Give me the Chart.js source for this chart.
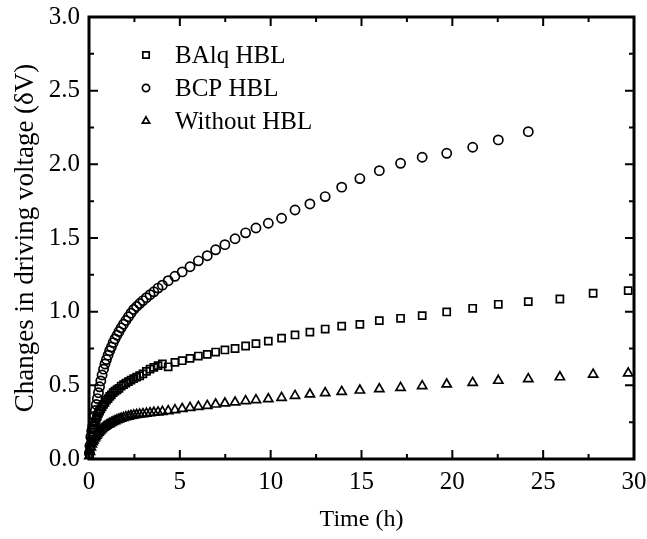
<!DOCTYPE html>
<html>
<head>
<meta charset="utf-8">
<title>Changes in driving voltage</title>
<script src="https://cdn.jsdelivr.net/npm/chart.js"></script>
<style>
  body { margin: 0; background: #fff; }
  #chart { display: block; }
</style>
</head>
<body>
<canvas id="chart" width="647" height="539"></canvas>
<script>
// time (h), shared by the three series
const times = [0.02, 0.05, 0.1, 0.15, 0.2, 0.25, 0.3, 0.35, 0.4, 0.46, 0.52, 0.58, 0.65, 0.72, 0.8, 0.88, 0.96,
  1.05, 1.14, 1.23, 1.33, 1.43, 1.54, 1.65, 1.77, 1.9, 2.03, 2.17, 2.31, 2.46, 2.62, 2.79, 2.97, 3.16, 3.36, 3.57,
  3.8, 4.04, 4.36, 4.73, 5.13, 5.56, 6.02, 6.51, 6.97, 7.48, 8.04, 8.62, 9.19, 9.87, 10.6, 11.34, 12.16, 13.0,
  13.91, 14.91, 15.98, 17.15, 18.34, 19.69, 21.12, 22.53, 24.18, 25.92, 27.75, 29.68];

// changes in driving voltage (dV)
const balqHbl = [0.03, 0.07, 0.12, 0.15, 0.18, 0.21, 0.23, 0.25, 0.27, 0.29, 0.31, 0.325, 0.34, 0.355, 0.37, 0.385,
  0.4, 0.41, 0.425, 0.435, 0.45, 0.46, 0.47, 0.48, 0.495, 0.505, 0.515, 0.525, 0.535, 0.545, 0.555, 0.565, 0.578,
  0.595, 0.61, 0.622, 0.634, 0.646, 0.626, 0.656, 0.667, 0.683, 0.699, 0.71, 0.726, 0.74, 0.75, 0.767, 0.783, 0.8,
  0.82, 0.842, 0.861, 0.882, 0.902, 0.914, 0.939, 0.955, 0.973, 0.998, 1.023, 1.05, 1.068, 1.086, 1.125, 1.143];

const bcpHbl = [0.04, 0.09, 0.15, 0.19, 0.22, 0.25, 0.29, 0.33, 0.37, 0.41, 0.45, 0.49, 0.53, 0.57, 0.61, 0.645,
  0.675, 0.705, 0.735, 0.76, 0.79, 0.815, 0.84, 0.865, 0.89, 0.915, 0.94, 0.965, 0.99, 1.015, 1.035, 1.055, 1.075,
  1.095, 1.115, 1.135, 1.16, 1.18, 1.21, 1.24, 1.27, 1.305, 1.345, 1.38, 1.42, 1.455, 1.495, 1.535, 1.568, 1.6,
  1.634, 1.69, 1.731, 1.781, 1.845, 1.903, 1.957, 2.007, 2.048, 2.075, 2.116, 2.166, 2.222];

const withoutHbl = [0.02, 0.05, 0.08, 0.10, 0.115, 0.128, 0.14, 0.15, 0.16, 0.17, 0.18, 0.188, 0.197,
  0.205, 0.213, 0.22, 0.227, 0.234, 0.24, 0.246, 0.252, 0.258, 0.264, 0.27, 0.275, 0.28, 0.285, 0.289, 0.293,
  0.297, 0.30, 0.303, 0.306, 0.309, 0.312, 0.315, 0.318, 0.321,
  0.326, 0.333, 0.341, 0.348, 0.355, 0.362, 0.371, 0.378, 0.385, 0.394, 0.401, 0.407, 0.416,
  0.43, 0.439, 0.448, 0.457, 0.466, 0.475, 0.484, 0.496, 0.507, 0.518, 0.532, 0.543, 0.556, 0.574, 0.582];

const seriesNames = ['BAlq HBL', 'BCP HBL', 'Without HBL'];
const xTicks = [0, 5, 10, 15, 20, 25, 30];
const yTicks = [0.0, 0.5, 1.0, 1.5, 2.0, 2.5, 3.0];

const serif = '"Liberation Serif", "DejaVu Serif", serif';

function toPoints(values) {
  return values.map((v, i) => ({ x: times[i], y: v }));
}

// box round the plot with inward ticks on all four sides
const framePlugin = {
  id: 'frame',
  afterDatasetsDraw(chart) {
    const { ctx, chartArea: a, scales: { x, y } } = chart;
    ctx.save();
    ctx.strokeStyle = '#000';
    ctx.lineWidth = 2;
    ctx.beginPath();
    const xMinor = xTicks.slice(1).map((v, i) => (v + xTicks[i]) / 2);
    const yMinor = yTicks.slice(1).map((v, i) => (v + yTicks[i]) / 2);
    const xMarks = xTicks.map(v => [v, 9]).concat(xMinor.map(v => [v, 5]));
    const yMarks = yTicks.map(v => [v, 9]).concat(yMinor.map(v => [v, 5]));
    xMarks.forEach(([v, len]) => {
      const px = x.getPixelForValue(v);
      ctx.moveTo(px, a.bottom); ctx.lineTo(px, a.bottom - len);
      ctx.moveTo(px, a.top); ctx.lineTo(px, a.top + len);
    });
    yMarks.forEach(([v, len]) => {
      const py = y.getPixelForValue(v);
      ctx.moveTo(a.left, py); ctx.lineTo(a.left + len, py);
      ctx.moveTo(a.right, py); ctx.lineTo(a.right - len, py);
    });
    ctx.stroke();
    ctx.lineWidth = 3;
    ctx.strokeRect(a.left, a.top, a.right - a.left, a.bottom - a.top);
    ctx.restore();
  }
};

// legend drawn inside the plot, top left
const innerLegend = {
  id: 'innerLegend',
  afterDatasetsDraw(chart) {
    const { ctx, chartArea: a } = chart;
    const sizes = [4.5, 3.6, 4.2];
    ctx.save();
    ctx.font = '25px ' + serif;
    ctx.textBaseline = 'middle';
    chart.data.datasets.forEach((ds, i) => {
      const cy = a.top + 38 + i * 33;
      const cx = a.left + 57;
      ctx.strokeStyle = '#000';
      ctx.fillStyle = 'rgba(0,0,0,0)';
      ctx.lineWidth = 1.7;
      Chart.helpers.drawPoint(ctx, { pointStyle: ds.pointStyle, radius: sizes[i], borderWidth: 1.7, rotation: 0 }, cx, cy);
      ctx.fillStyle = '#000';
      ctx.fillText(ds.label, a.left + 86, cy + 1);
    });
    ctx.restore();
  }
};

const common = {
  showLine: false,
  borderColor: '#000',
  backgroundColor: 'rgba(0,0,0,0)',
  pointBorderWidth: 1.7,
  clip: false
};

new Chart(document.getElementById('chart'), {
  type: 'scatter',
  data: {
    datasets: [
      Object.assign({ label: seriesNames[0], data: toPoints(balqHbl), pointStyle: 'rect', pointRadius: 5 }, common),
      Object.assign({ label: seriesNames[1], data: toPoints(bcpHbl), pointStyle: 'circle', pointRadius: 4.6 }, common),
      Object.assign({ label: seriesNames[2], data: toPoints(withoutHbl), pointStyle: 'triangle', pointRadius: 5.3 }, common)
    ]
  },
  options: {
    responsive: false,
    animation: false,
    layout: { padding: { left: 0, top: 17, right: 13, bottom: 0 } },
    plugins: {
      legend: { display: false },
      tooltip: { enabled: false }
    },
    scales: {
      x: {
        type: 'linear',
        min: 0,
        max: 30,
        afterBuildTicks: s => { s.ticks = xTicks.map(v => ({ value: v })); },
        afterFit: s => { s.height = 80; s.paddingLeft = 0; s.paddingRight = 0; },
        grid: { display: false, drawTicks: false },
        border: { display: false },
        ticks: { color: '#000', padding: 8, maxRotation: 0, font: { family: serif, size: 25 }, callback: v => String(v) },
        title: { display: true, text: 'Time (h)', color: '#000', font: { family: serif, size: 24 }, padding: { top: 0, bottom: 5 } }
      },
      y: {
        type: 'linear',
        min: 0,
        max: 3,
        afterBuildTicks: s => { s.ticks = yTicks.map(v => ({ value: v })); },
        afterFit: s => { s.width = 89; s.paddingTop = 0; s.paddingBottom = 0; },
        grid: { display: false, drawTicks: false },
        border: { display: false },
        ticks: { color: '#000', padding: 9, font: { family: serif, size: 25 }, callback: v => Number(v).toFixed(1) },
        title: { display: true, text: 'Changes in driving voltage (δV)', color: '#000', font: { family: serif, size: 27 }, padding: { top: 10, bottom: 0 } }
      }
    }
  },
  plugins: [framePlugin, innerLegend]
});
</script>
</body>
</html>
